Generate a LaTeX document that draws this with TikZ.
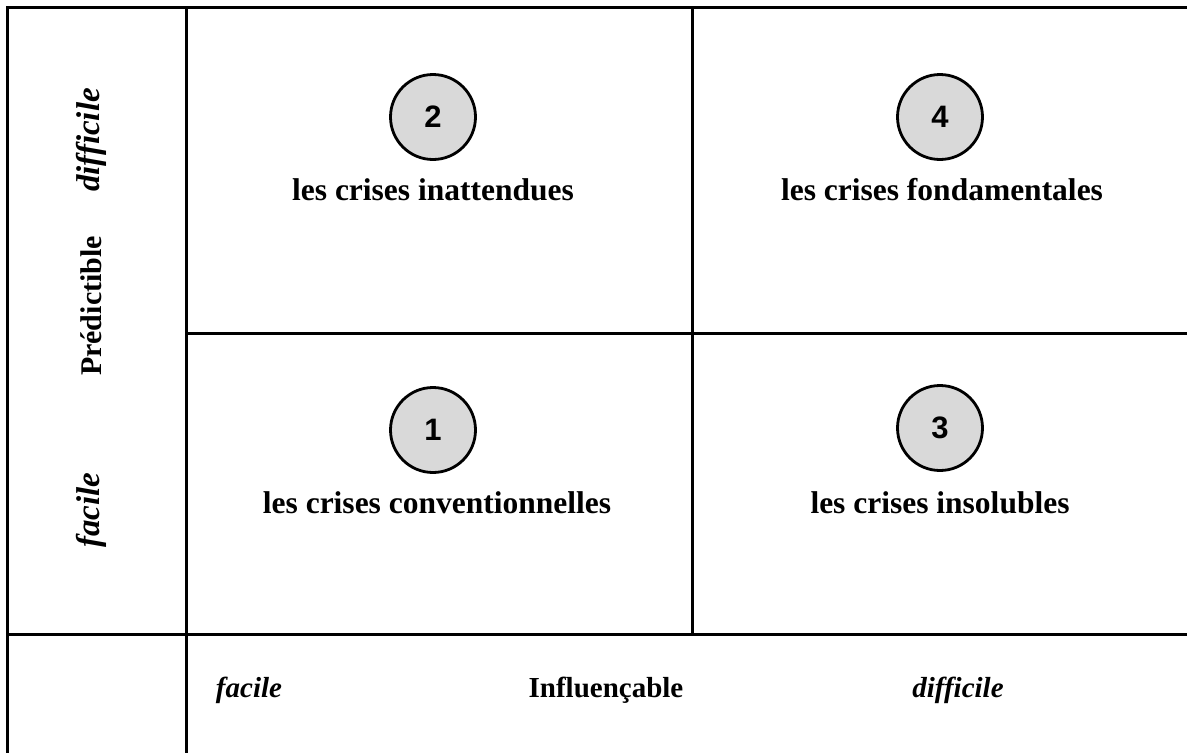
\documentclass[tikz,border=0pt]{standalone}
\usepackage{fontspec}
\setmainfont{Liberation Serif}
\newfontfamily\numfont{Liberation Sans}
\begin{document}
\begin{tikzpicture}[x=1pt,y=-1pt,
  gridline/.style={line width=3pt},
  label/.style={font=\fontsize{31.5}{36}\selectfont\bfseries, inner sep=0pt},
  axis/.style={font=\fontsize{29}{34}\selectfont\bfseries\itshape, inner sep=0pt},
  sideaxis/.style={font=\fontsize{33}{38}\selectfont\bfseries\itshape, inner sep=0pt},
  axisname/.style={font=\fontsize{29}{34}\selectfont\bfseries, inner sep=0pt},
  sidename/.style={font=\fontsize{30}{35}\selectfont\bfseries, inner sep=0pt},
  num/.style={circle, draw, line width=2.8pt, fill=black!15, minimum size=85pt, inner sep=0pt, font=\numfont\fontsize{31}{34}\selectfont\bfseries}]
\useasboundingbox (0,0) rectangle (1187,753);
\coordinate (tl) at (7,7);
\coordinate (tr) at (1187,7);
\coordinate (bl) at (7,753);
\coordinate (c1t) at (186.5,7);
\coordinate (c1b) at (186.5,753);
\coordinate (c2t) at (692,7);
\coordinate (c2b) at (692,634);
\coordinate (r1l) at (186.5,333);
\coordinate (r1r) at (1187,333);
\coordinate (r2l) at (7,634);
\coordinate (r2r) at (1187,634);
\draw[gridline] (tr) -- (tl) -- (bl);
\draw[gridline] (c1t) -- (c1b);
\draw[gridline] (c2t) -- (c2b);
\draw[gridline] (r1l) -- (r1r);
\draw[gridline] (r2l) -- (r2r);
\node[num] (n2) at (433,117) {2};
\node[num] (n4) at (940,117) {4};
\node[num] (n1) at (433,430) {1};
\node[num] (n3) at (940,428) {3};
\node[label] (t2) at (433,190) {les crises inattendues};
\node[label] (t4) at (942,190) {les crises fondamentales};
\node[label] (t1) at (437,503) {les crises conventionnelles};
\node[label] (t3) at (940,503) {les crises insolubles};
\node[axis] (bf) at (249,690) {facile};
\node[axisname] (bi) at (606,690) {Influençable};
\node[axis] (bd) at (958,690) {difficile};
\node[sideaxis, rotate=90] (ld) at (91,140) {difficile};
\node[sidename, rotate=90] (lp) at (91,306) {Prédictible};
\node[sideaxis, rotate=90] (lf) at (91,510) {facile};
\end{tikzpicture}
\end{document}
